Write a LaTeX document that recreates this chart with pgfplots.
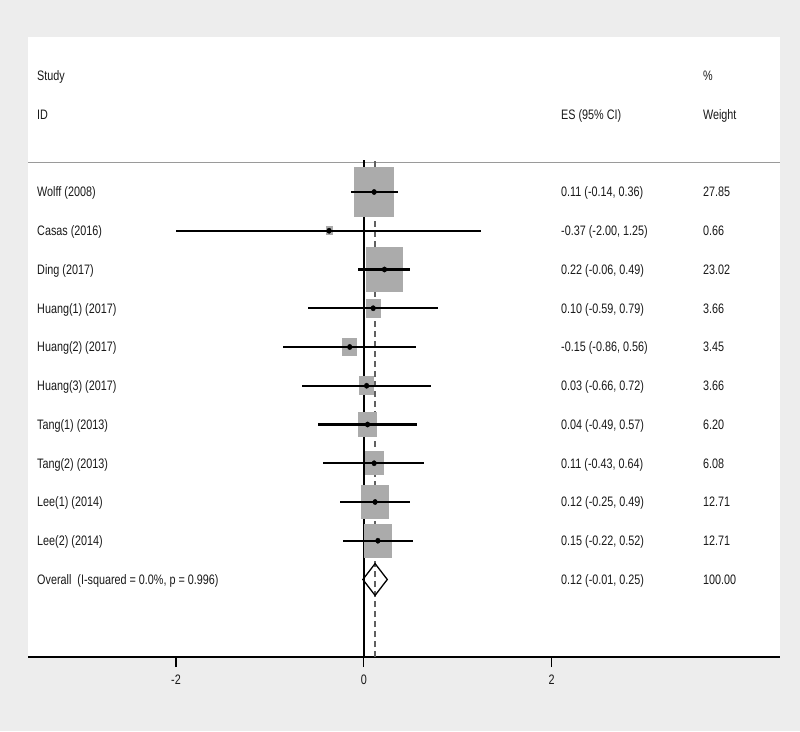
\documentclass[border=0pt]{standalone}
\usepackage{fontspec}
\setmainfont{Liberation Sans}
\usepackage{graphicx}
\usepackage{pgfplots}
\usepackage{pgfplotstable}
\pgfplotsset{compat=1.18}
\definecolor{bggray}{HTML}{EDEDED}
\definecolor{boxgray}{HTML}{ABABAB}
\definecolor{txt}{HTML}{1A1A1A}
\definecolor{sepgray}{HTML}{9A9A9A}
\definecolor{dashgray}{HTML}{606060}
\newcommand{\T}[1]{\scalebox{1}[1.27]{#1}}

\pgfplotstableread{
y  es    lo    hi    w      half
11 0.11  -0.14 0.36  27.85  19.5
10 -0.37 -2.00 1.25  0.66   3.0
9  0.22  -0.06 0.49  23.02  17.7
8  0.10  -0.59 0.79  3.66   7.07
7  -0.15 -0.86 0.56  3.45   6.86
6  0.03  -0.66 0.72  3.66   7.07
5  0.04  -0.49 0.57  6.20   9.2
4  0.11  -0.43 0.64  6.08   9.11
3  0.12  -0.25 0.49  12.71  13.17
2  0.15  -0.22 0.52  12.71  13.17
}\studies

\begin{document}
\begin{tikzpicture}[font=\fontsize{10.8}{13}\selectfont, every node/.style={text=txt},
  lab/.style={anchor=base west, inner sep=0, yshift=-4.9pt}]
\fill[bggray] (0,0) rectangle (800pt,731pt);
\begin{axis}[
  at={(28pt,74pt)}, anchor=south west,
  width=752pt, height=620pt, scale only axis,
  xmin=-3.576, xmax=4.432, ymin=-1, ymax=15,
  axis background/.style={fill=white},
  axis x line=bottom, axis y line=none,
  axis line style={black, line width=1.3pt, -},
  xtick={-2,0,2}, xticklabels={\T{-2},\T{0},\T{2}},
  ytick=\empty,
  tick align=outside, major tick length=10pt,
  tick style={black, line width=1.3pt},
  xticklabel style={text=txt, font=\fontsize{10.8}{13}\selectfont, yshift=-4pt},
  /pgf/number format/assume math mode=true,
  clip=false, clip mode=individual,
]
% separator line
\addplot[sepgray, line width=1pt] coordinates {(-3.576,11.75) (4.432,11.75)};
% null line
\addplot[black, line width=1.8pt] coordinates {(0,-1) (0,11.82)};
% overall effect dashed line
\addplot[dashgray, line width=1.3pt, dash pattern=on 6pt off 4pt] coordinates {(0.12,-1) (0.12,11.82)};
% weight boxes
\addplot[only marks, mark=square*, boxgray,
  mark options={draw=boxgray, fill=boxgray, line width=0pt, yscale=1.27},
  scatter, scatter/use mapped color={draw=boxgray, fill=boxgray},
  visualization depends on={\thisrow{half} \as \hw},
  scatter/@pre marker code/.append style={/tikz/mark size=\hw pt}]
  table[x=es, y=y] {\studies};
% confidence intervals and point estimates
\addplot[only marks, mark=*, mark size=2.3pt, black,
  mark options={yscale=1.15},
  error bars/.cd, x dir=both, x explicit, error mark=none,
  error bar style={line width=2.3pt, black}]
  table[x=es, y=y,
        x error plus expr=\thisrow{hi}-\thisrow{es},
        x error minus expr=\thisrow{es}-\thisrow{lo}] {\studies};
% overall diamond
\addplot[black, line width=1.3pt, fill=none] coordinates {(-0.01,1) (0.12,1.41) (0.25,1) (0.12,0.59)} -- cycle;

% headers
\node[lab] at (axis cs:-3.48,14) {\T{Study}};
\node[lab] at (axis cs:-3.48,13) {\T{ID}};
\node[lab] at (axis cs:2.10,13) {\T{ES (95\% CI)}};
\node[lab] at (axis cs:3.61,14) {\T{\%}};
\node[lab] at (axis cs:3.61,13) {\T{Weight}};
% study labels
\node[lab] at (axis cs:-3.48,11) {\T{Wolff (2008)}};
\node[lab] at (axis cs:-3.48,10) {\T{Casas (2016)}};
\node[lab] at (axis cs:-3.48,9) {\T{Ding (2017)}};
\node[lab] at (axis cs:-3.48,8) {\T{Huang(1) (2017)}};
\node[lab] at (axis cs:-3.48,7) {\T{Huang(2) (2017)}};
\node[lab] at (axis cs:-3.48,6) {\T{Huang(3) (2017)}};
\node[lab] at (axis cs:-3.48,5) {\T{Tang(1) (2013)}};
\node[lab] at (axis cs:-3.48,4) {\T{Tang(2) (2013)}};
\node[lab] at (axis cs:-3.48,3) {\T{Lee(1) (2014)}};
\node[lab] at (axis cs:-3.48,2) {\T{Lee(2) (2014)}};
\node[lab] at (axis cs:-3.48,1) {\T{Overall\ \ (I-squared = 0.0\%, p = 0.996)}};
% ES column
\node[lab] at (axis cs:2.10,11) {\T{0.11 (-0.14, 0.36)}};
\node[lab] at (axis cs:2.10,10) {\T{-0.37 (-2.00, 1.25)}};
\node[lab] at (axis cs:2.10,9) {\T{0.22 (-0.06, 0.49)}};
\node[lab] at (axis cs:2.10,8) {\T{0.10 (-0.59, 0.79)}};
\node[lab] at (axis cs:2.10,7) {\T{-0.15 (-0.86, 0.56)}};
\node[lab] at (axis cs:2.10,6) {\T{0.03 (-0.66, 0.72)}};
\node[lab] at (axis cs:2.10,5) {\T{0.04 (-0.49, 0.57)}};
\node[lab] at (axis cs:2.10,4) {\T{0.11 (-0.43, 0.64)}};
\node[lab] at (axis cs:2.10,3) {\T{0.12 (-0.25, 0.49)}};
\node[lab] at (axis cs:2.10,2) {\T{0.15 (-0.22, 0.52)}};
\node[lab] at (axis cs:2.10,1) {\T{0.12 (-0.01, 0.25)}};
% weight column
\node[lab] at (axis cs:3.61,11) {\T{27.85}};
\node[lab] at (axis cs:3.61,10) {\T{0.66}};
\node[lab] at (axis cs:3.61,9) {\T{23.02}};
\node[lab] at (axis cs:3.61,8) {\T{3.66}};
\node[lab] at (axis cs:3.61,7) {\T{3.45}};
\node[lab] at (axis cs:3.61,6) {\T{3.66}};
\node[lab] at (axis cs:3.61,5) {\T{6.20}};
\node[lab] at (axis cs:3.61,4) {\T{6.08}};
\node[lab] at (axis cs:3.61,3) {\T{12.71}};
\node[lab] at (axis cs:3.61,2) {\T{12.71}};
\node[lab] at (axis cs:3.61,1) {\T{100.00}};
\end{axis}
\end{tikzpicture}
\end{document}
